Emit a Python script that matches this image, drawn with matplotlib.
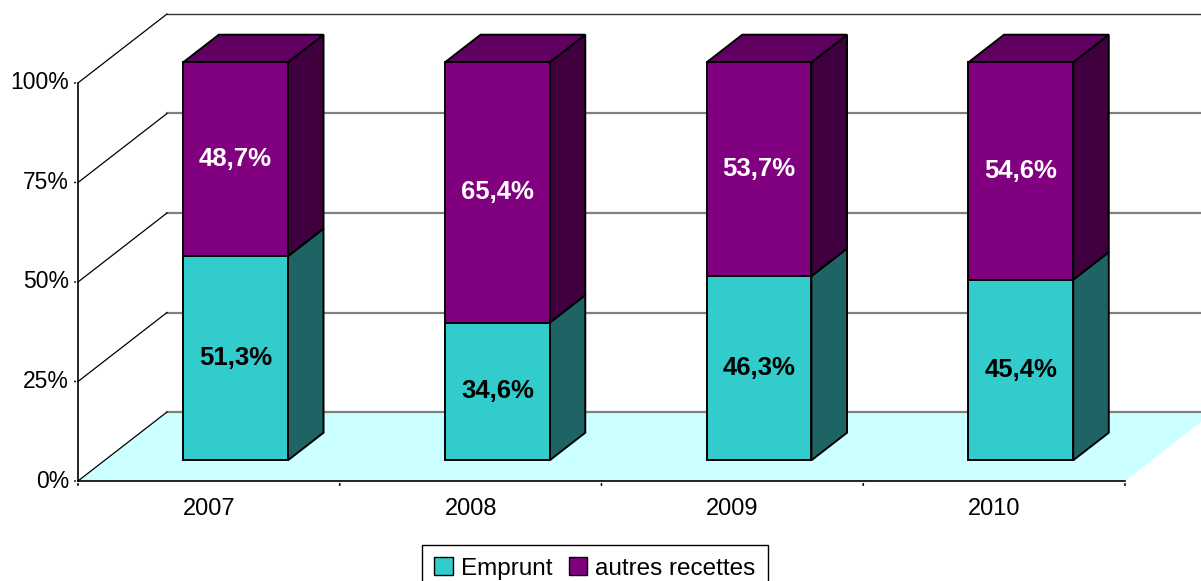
import matplotlib
matplotlib.use("Agg")
import matplotlib.pyplot as plt
from matplotlib.patches import Polygon, Patch
from matplotlib.transforms import ScaledTranslation, IdentityTransform

years = ["2007", "2008", "2009", "2010"]
emprunt = [51.3, 34.6, 46.3, 45.4]
autres = [48.7, 65.4, 53.7, 54.6]
series_names = ["Emprunt", "autres recettes"]
yticks = [0, 25, 50, 75, 100]

# face colours: front, side, top
CYAN = ("#33CCCC", "#1E6464", "#279999")
PURPLE = ("#800080", "#400040", "#600060")
FLOOR = "#CCFFFF"

plt.rcParams["font.family"] = ["Liberation Sans", "DejaVu Sans"]

DPI = 100
fig = plt.figure(figsize=(12.01, 5.81), dpi=DPI)
ax = fig.add_axes([78 / 1201, 100 / 581, 1047 / 1201, 398 / 581])
ax.set_xlim(-0.5, len(years) - 0.5)
ax.set_ylim(0, 100)
ax.axis("off")

# oblique depth: full floor depth in pixels (right, up)
DEPTH_DX, DEPTH_DY = 89, 69
PX = IdentityTransform()


def at_depth(d):
    return ax.transData + ScaledTranslation(d * DEPTH_DX / DPI, d * DEPTH_DY / DPI,
                                            fig.dpi_scale_trans)


def pix_poly(pts, **kw):
    ax.add_patch(Polygon(pts, closed=True, transform=PX, clip_on=False, **kw))


x0, x1 = -0.5, len(years) - 0.5
front, back = at_depth(0), at_depth(1)

# floor
pix_poly([front.transform((x0, 0)), front.transform((x1, 0)),
          back.transform((x1, 0)), back.transform((x0, 0))],
         facecolor=FLOOR, edgecolor="none", zorder=0)

# back wall gridlines and left wall diagonals
for v in yticks:
    top = v == 100
    ax.plot([x0, x1], [v, v], transform=back, clip_on=False,
            color="#333333" if top else "#808080", lw=1.0 if top else 1.6, zorder=1)
    a = front.transform((x0, v))
    b = back.transform((x0, v))
    ax.plot([a[0], b[0]], [a[1], b[1]], transform=PX, clip_on=False,
            color="black", lw=0.9, zorder=1)

# front axes
ax.plot([x0, x0], [0, 100], color="black", lw=1.2, clip_on=False, zorder=2)
ax.plot([x0, x1], [0, 0], color="black", lw=1.2, clip_on=False, zorder=2)
for v in yticks:
    ax.annotate("", xy=(x0, v), xytext=(-6, 0), textcoords="offset pixels",
                arrowprops=dict(arrowstyle="-", lw=1.2, color="black"))
    ax.annotate(f"{v}%", xy=(x0, v), xytext=(-9, 0), textcoords="offset pixels",
                ha="right", va="center", fontsize=16.5)
for i in range(len(years) + 1):
    ax.annotate("", xy=(x0 + i, 0), xytext=(0, -7), textcoords="offset pixels",
                arrowprops=dict(arrowstyle="-", lw=1.2, color="black"))
for i, yr in enumerate(years):
    ax.annotate(yr, xy=(i, 0), xytext=(0, -28), textcoords="offset pixels",
                ha="center", va="center", fontsize=17)

# bars: sit between depth 0.30 and 0.70 of the floor
D_FRONT, D_BACK = 0.30, 0.70
HALF_W = 0.20
bf, bb = at_depth(D_FRONT), at_depth(D_BACK)


def box(xc, y_lo, y_hi, colors, z):
    xl, xr = xc - HALF_W, xc + HALF_W
    style = dict(edgecolor="black", lw=1.4)
    pix_poly([bf.transform((xl, y_lo)), bf.transform((xr, y_lo)),
              bf.transform((xr, y_hi)), bf.transform((xl, y_hi))],
             facecolor=colors[0], zorder=z + 0.2, **style)
    pix_poly([bf.transform((xr, y_lo)), bb.transform((xr, y_lo)),
              bb.transform((xr, y_hi)), bf.transform((xr, y_hi))],
             facecolor=colors[1], zorder=z + 0.1, **style)
    pix_poly([bf.transform((xl, y_hi)), bf.transform((xr, y_hi)),
              bb.transform((xr, y_hi)), bb.transform((xl, y_hi))],
             facecolor=colors[2], zorder=z + 0.1, **style)


for i, (e, a) in enumerate(zip(emprunt, autres)):
    box(i, 0, e, CYAN, 3 + i)
    box(i, e, e + a, PURPLE, 3.5 + i)
    ax.text(i, e / 2, f"{e:.1f}%".replace(".", ","), transform=bf, ha="center",
            va="center", fontsize=18.5, fontweight="bold", color="black", zorder=20)
    ax.text(i, e + a / 2, f"{a:.1f}%".replace(".", ","), transform=bf, ha="center",
            va="center", fontsize=18.5, fontweight="bold", color="white", zorder=20)

handles = [Patch(facecolor=CYAN[0], edgecolor="black", lw=1.0),
           Patch(facecolor=PURPLE[0], edgecolor="black", lw=1.0)]
leg = fig.legend(handles, series_names, loc="upper center",
                 bbox_to_anchor=(595 / 1201, 36 / 581), ncol=2, fontsize=17.5,
                 frameon=True, fancybox=False, edgecolor="black", framealpha=1,
                 handlelength=0.75, handleheight=0.75, handletextpad=0.35,
                 columnspacing=0.65, borderpad=0.5, borderaxespad=0)
leg.get_frame().set_linewidth(1.0)

fig.savefig("out.png", dpi=DPI)
